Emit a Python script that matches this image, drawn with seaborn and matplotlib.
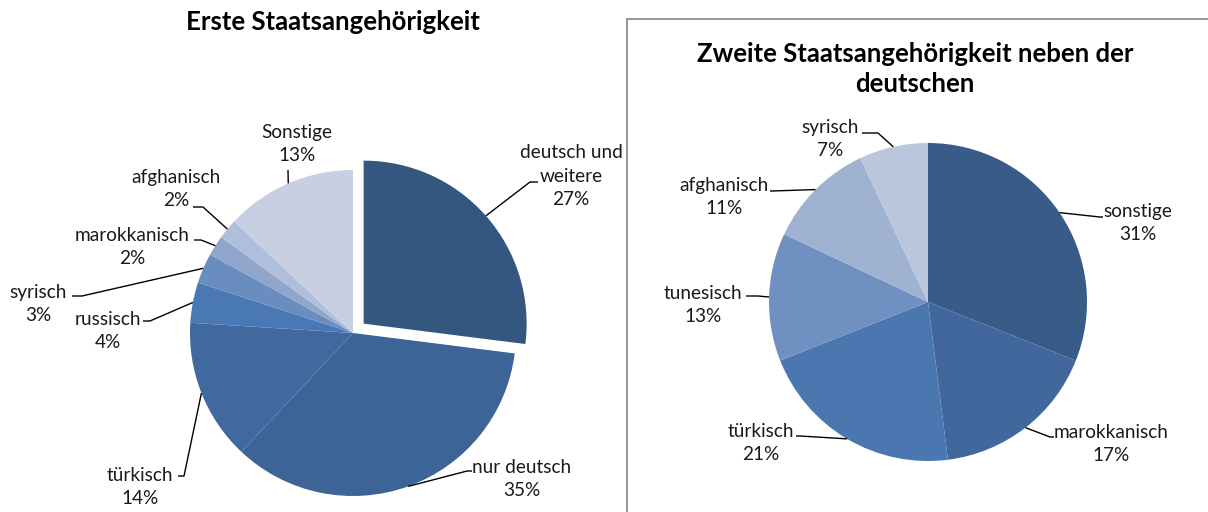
import matplotlib.pyplot as plt
import matplotlib.patches as mpatches
import numpy as np
import seaborn as sns

# ---- data ----
left_title = "Erste Staatsangehörigkeit"
left_labels = ["deutsch und\nweitere", "nur deutsch", "türkisch", "russisch",
               "syrisch", "marokkanisch", "afghanisch", "Sonstige"]
left_values = [27, 35, 14, 4, 3, 2, 2, 13]

right_title = "Zweite Staatsangehörigkeit neben der\ndeutschen"
right_labels = ["sonstige", "marokkanisch", "türkisch", "tunesisch",
                "afghanisch", "syrisch"]
right_values = [31, 17, 21, 13, 11, 7]

# ---- style / layout (pixel coordinates of the 1208x512 canvas) ----
W, H = 1208, 512
left_colors = ["#34577f", "#3d6496", "#42699f", "#4a78b5",
               "#6a8dc0", "#8fa5cc", "#afbfdb", "#c8cfe3"]
right_colors = ["#395b87", "#41679c", "#4a77b0", "#7090c2", "#a0b2d2", "#bac6dc"]
left_explode = [0.087, 0, 0, 0, 0, 0, 0, 0]  # fraction of radius

# label centre (x, y) and leader elbow (x, y) + stub end x
left_text = [(571, 176), (522, 479), (140, 487), (108, 331),
             (38, 304), (132, 247), (176, 189), (297, 144)]
left_elbow = [(530, 182, 538), (467, 471, 472), (184, 476, 178), (150, 321, 143),
              (82, 296, 72), (201, 240, 194), (203, 207, 193), (288, 170, 288)]
right_text = [(1138, 223), (1111, 444), (761, 443), (703, 305),
              (724, 197), (830, 139)]
right_elbow = [(1100, 217, 1103), (1050, 437, 1054), (800, 436, 796),
               (758, 296, 746), (772, 191, 770), (878, 133, 862)]

sns.set_theme(style="white")
plt.rcParams['font.family'] = ['Lato', 'DejaVu Sans']

fig = plt.figure(figsize=(W / 100, H / 100), dpi=100)
ax = fig.add_axes([0, 0, 1, 1])


def draw_pie(values, labels, colors, center, radius, texts, elbows, explode=None):
    cx, cy = center[0], H - center[1]
    if explode is not None:
        explode = [e * radius for e in explode]
    wedges, _ = ax.pie(values, colors=colors, startangle=90, counterclock=False,
                       explode=explode, center=(cx, cy), radius=radius,
                       wedgeprops=dict(linewidth=0))
    for w, lab, v, (tx, ty), (ex, ey, sx) in zip(wedges, labels, values, texts, elbows):
        ang = np.deg2rad((w.theta1 + w.theta2) / 2)
        px = w.center[0] + radius * np.cos(ang)
        py = w.center[1] + radius * np.sin(ang)
        ax.plot([px, ex, sx], [py, H - ey, H - ey], color="black", lw=1.0,
                solid_capstyle="butt")
        ax.text(tx, H - ty, f"{lab}\n{v}%", ha="center", va="center",
                fontsize=13.7, linespacing=1.45, color="#1a1a1a")


draw_pie(left_values, left_labels, left_colors, (353, 333), 163,
         left_text, left_elbow, explode=left_explode)
draw_pie(right_values, right_labels, right_colors, (928, 302), 159,
         right_text, right_elbow)

ax.text(333, H - 22, left_title, ha="center", va="center",
        fontsize=18.5, fontweight="bold", color="black")
ax.text(915, H - 69, right_title, ha="center", va="center",
        fontsize=18.5, fontweight="bold", color="black", linespacing=1.35)

# frame around the right chart
ax.add_patch(mpatches.Rectangle((627, -10), 700, H - 19 + 10, fill=False,
                                ec="#8c8c8c", lw=1.3, clip_on=True))

ax.set_xlim(0, W)
ax.set_ylim(0, H)
ax.set_aspect("equal")
ax.axis("off")

fig.savefig("out.png", dpi=100)
